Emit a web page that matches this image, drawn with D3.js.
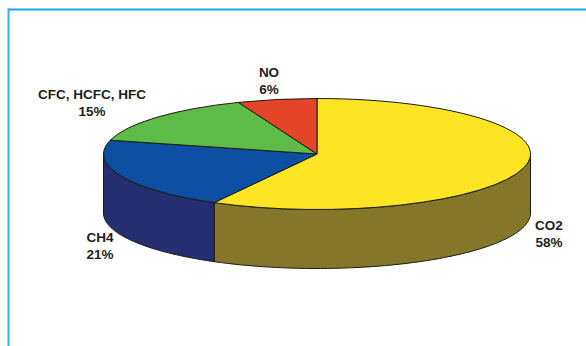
<!DOCTYPE html>
<html>
<head>
<meta charset="utf-8">
<script src="https://cdn.jsdelivr.net/npm/d3@7"></script>
<style>
  html, body { margin: 0; padding: 0; background: #fff; }
  svg { display: block; }
</style>
</head>
<body>
<svg id="chart" width="586" height="346"></svg>
<script>
// ---- data ----
const categories = ["CO2", "CH4", "CFC, HCFC, HFC", "NO"];
const values = [58, 21, 15, 6];
const valueLabels = ["58%", "21%", "15%", "6%"];
const topColors = ["#fde526", "#0c4fa3", "#5dbb48", "#e24527"];
const sideColors = ["#857729", "#262e72", "#3d7d30", "#963019"];

// ---- layout ----
const W = 586, H = 346;
const cx = 317, cy = 154, rx = 213.5, ry = 55.5, depth = 59;
const svg = d3.select("#chart");

// frame (top + left rule)
svg.append("line").attr("x1", 8).attr("x2", W).attr("y1", 9.5).attr("y2", 9.5)
  .attr("stroke", "#1fa6e0").attr("stroke-width", 2);
svg.append("line").attr("x1", 8.5).attr("x2", 8.5).attr("y1", 8.5).attr("y2", H)
  .attr("stroke", "#35b3e6").attr("stroke-width", 2);

const data = categories.map((c, i) => ({ cat: c, value: values[i], label: valueLabels[i], i }));
const pie = d3.pie().value(d => d.value).sort(null).startAngle(0).endAngle(2 * Math.PI);
const arcs = pie(data);

const px = a => cx + rx * Math.sin(a);
const py = a => cy - ry * Math.cos(a);

const g = svg.append("g");
const strokeCol = "#1c1c10";

// sides (front half only: angles in [PI/2, 3PI/2])
arcs.forEach(d => {
  const b0 = Math.max(d.startAngle, Math.PI / 2);
  const b1 = Math.min(d.endAngle, 3 * Math.PI / 2);
  if (b1 <= b0) return;
  const path = d3.path();
  path.moveTo(px(b0), py(b0));
  // approximate ellipse arc with points for clarity
  const n = 60;
  for (let k = 1; k <= n; k++) {
    const a = b0 + (b1 - b0) * k / n;
    path.lineTo(px(a), py(a));
  }
  for (let k = n; k >= 0; k--) {
    const a = b0 + (b1 - b0) * k / n;
    path.lineTo(px(a), py(a) + depth);
  }
  path.closePath();
  g.append("path").attr("d", path.toString())
    .attr("fill", sideColors[d.data.i])
    .attr("stroke", strokeCol).attr("stroke-width", 1).attr("stroke-linejoin", "round");
});

// tops
arcs.forEach(d => {
  const a0 = d.startAngle, a1 = d.endAngle;
  const large = (a1 - a0) > Math.PI ? 1 : 0;
  const dstr = `M${cx},${cy}L${px(a0)},${py(a0)}A${rx},${ry} 0 ${large} 1 ${px(a1)},${py(a1)}Z`;
  g.append("path").attr("d", dstr)
    .attr("fill", topColors[d.data.i])
    .attr("stroke", strokeCol).attr("stroke-width", 1).attr("stroke-linejoin", "round");
});

// labels
const labelPos = [
  { x: 549, y: 230 },   // CO2
  { x: 100, y: 242 },   // CH4
  { x: 92,  y: 99 },    // CFC
  { x: 269, y: 77 }     // NO
];
arcs.forEach(d => {
  const p = labelPos[d.data.i];
  const t = svg.append("text")
    .attr("x", p.x).attr("y", p.y)
    .attr("text-anchor", "middle")
    .attr("font-family", "'Liberation Sans', Arial, Helvetica, sans-serif")
    .attr("font-weight", "bold")
    .attr("font-size", "13.5px")
    .attr("fill", "#1e1e1e");
  t.append("tspan").attr("x", p.x).attr("dy", 0).text(d.data.cat);
  t.append("tspan").attr("x", p.x).attr("dy", 16.5).text(d.data.label);
});
</script>
</body>
</html>
